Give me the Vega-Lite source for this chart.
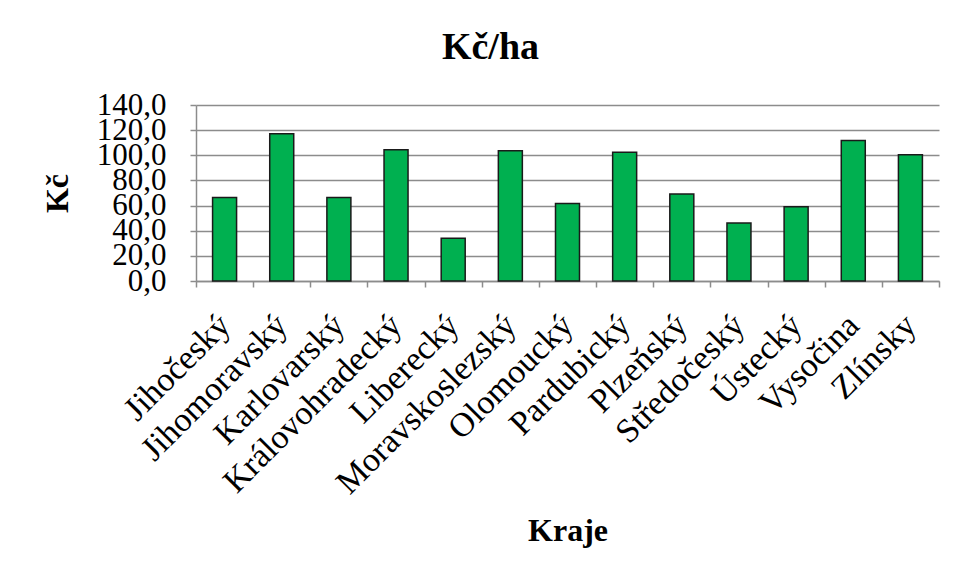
{
  "$schema": "https://vega.github.io/schema/vega-lite/v6.json",
  "autosize": "none",
  "width": 743,
  "height": 176,
  "padding": {"left": 196, "top": 105, "right": 20, "bottom": 298},
  "background": "white",
  "title": {
    "text": "Kč/ha",
    "font": "Liberation Serif",
    "fontSize": 38,
    "fontWeight": "bold",
    "color": "black",
    "anchor": "middle",
    "frame": "bounds",
    "offset": 22
  },
  "data": {
    "values": [
      {"kraj": "Jihočeský", "v": 66.5},
      {"kraj": "Jihomoravský", "v": 117.2},
      {"kraj": "Karlovarský", "v": 66.4},
      {"kraj": "Královohradecký", "v": 104.4},
      {"kraj": "Liberecký", "v": 34.0},
      {"kraj": "Moravskoslezský", "v": 103.6},
      {"kraj": "Olomoucký", "v": 61.6},
      {"kraj": "Pardubický", "v": 102.5},
      {"kraj": "Plzeňský", "v": 69.3},
      {"kraj": "Středočeský", "v": 46.2},
      {"kraj": "Ústecký", "v": 59.0},
      {"kraj": "Vysočina", "v": 111.8},
      {"kraj": "Zlínsky", "v": 100.4}
    ]
  },
  "mark": {"type": "bar", "fill": "#00B050", "stroke": "#1a1a1a", "strokeWidth": 1.5, "width": {"band": 0.42}},
  "encoding": {
    "x": {
      "field": "kraj",
      "type": "nominal",
      "sort": null,
      "scale": {"paddingInner": 0, "paddingOuter": 0},
      "axis": {
        "title": "Kraje",
        "titleFont": "Liberation Serif",
        "titleFontSize": 32,
        "titleFontWeight": "bold",
        "titleColor": "black",
        "titlePadding": 34,
        "labelFont": "Liberation Serif",
        "labelFontSize": 34,
        "labelColor": "black",
        "labelAngle": -45,
        "labelAlign": "right",
        "labelBaseline": "middle",
        "labelPadding": 33,
        "labelOverlap": false,
        "labelLimit": 0,
        "tickBand": "extent",
        "tickSize": 6,
        "tickColor": "#8c8c8c",
        "tickWidth": 1.5,
        "domainColor": "#8c8c8c",
        "domainWidth": 1.5,
        "grid": false
      }
    },
    "y": {
      "field": "v",
      "type": "quantitative",
      "scale": {"domain": [0, 140], "nice": false},
      "axis": {
        "title": "Kč",
        "titleFont": "Liberation Serif",
        "titleFontSize": 32,
        "titleFontWeight": "bold",
        "titleColor": "black",
        "titlePadding": 22,
        "values": [0, 20, 40, 60, 80, 100, 120, 140],
        "labelExpr": "replace(format(datum.value, '.1f'), '.', ',')",
        "labelFont": "Liberation Serif",
        "labelFontSize": 31,
        "labelColor": "black",
        "labelOverlap": false,
        "labelFlush": false,
        "labelPadding": 24,
        "tickSize": 6,
        "tickColor": "#8c8c8c",
        "tickWidth": 1.5,
        "domainColor": "#8c8c8c",
        "domainWidth": 1.5,
        "grid": true,
        "gridColor": "#8c8c8c",
        "gridWidth": 1.5
      }
    }
  },
  "config": {
    "view": {"stroke": null}
  }
}
